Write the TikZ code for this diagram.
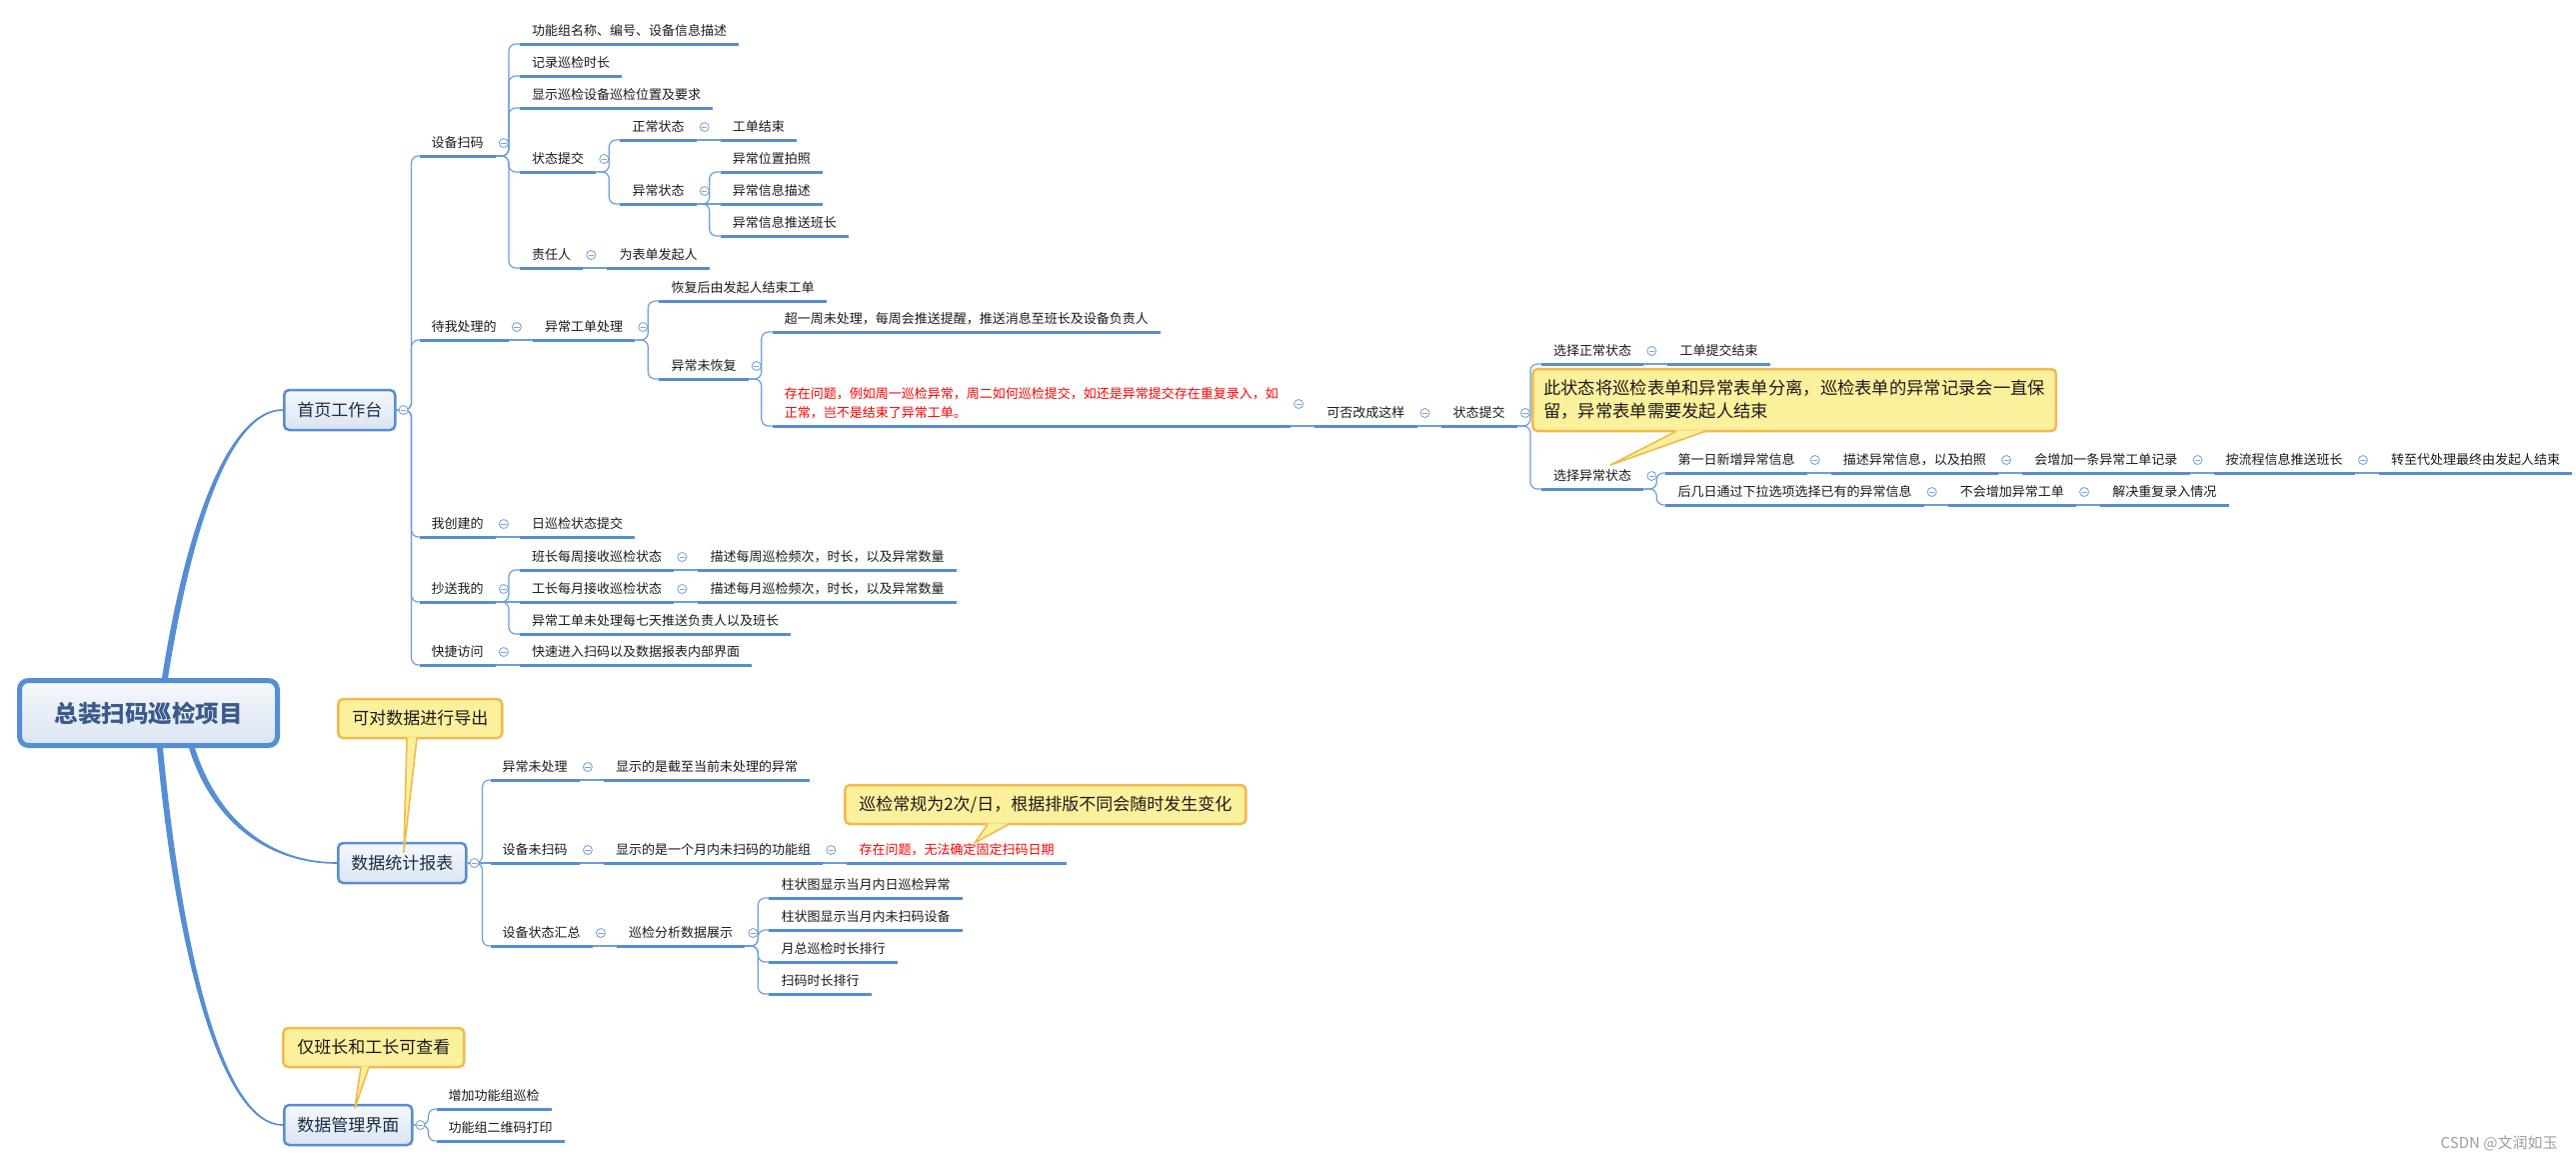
\documentclass[tikz,border=0pt]{standalone}
\usepackage{fontspec}
\setmainfont{Noto Sans CJK SC}
\definecolor{lineblue}{HTML}{558ED5}
\definecolor{linkblue}{HTML}{6E9DDA}
\definecolor{foldblue}{HTML}{7FA5DA}
\definecolor{boxtop}{HTML}{F5F8FC}
\definecolor{boxbot}{HTML}{DAE4F1}
\definecolor{rootink}{HTML}{3A5A8C}
\definecolor{mainink}{HTML}{1C2C45}
\definecolor{notefill}{HTML}{FBF09C}
\definecolor{noteline}{HTML}{F2BA4E}
\definecolor{inkgrey}{HTML}{1A1A1A}

\begin{document}
\begin{tikzpicture}[x=1pt, y=-1pt,
  topic/.style={anchor=south west, inner xsep=12pt, inner ysep=5pt, text height=10pt, text depth=3pt,
    text=inkgrey, font=\fontsize{13}{19}\selectfont},
  warn/.style={topic, text=red},
  uline/.style={lineblue, line width=3pt},
  link/.style={linkblue, line width=1.2pt, rounded corners=7pt},
  main/.style={anchor=west, draw=lineblue, line width=2.5pt, rounded corners=5pt, top color=boxtop,
    bottom color=boxbot, inner xsep=13pt, minimum height=40pt, text=mainink, font=\fontsize{17}{20}\selectfont},
  fold/.style={circle, draw=foldblue, fill=white, line width=0.9pt, minimum size=9pt, inner sep=0pt,
    path picture={\draw[foldblue, line width=0.9pt] ([xshift=-2.6pt]path picture bounding box.center)
      -- ([xshift=2.6pt]path picture bounding box.center);}},
  note/.style={anchor=west, draw=noteline, fill=notefill, line width=2.5pt, rounded corners=5pt,
    inner xsep=14pt, minimum height=39pt, text=inkgrey, font=\fontsize{17}{23}\selectfont}]
\useasboundingbox (0,0) rectangle (2577,1162);
\fill[white] (0,0) rectangle (2577,1162);

% central topic and the three main branches
\node[draw=lineblue, line width=5pt, rounded corners=9pt, top color=boxtop, bottom color=boxbot,
  minimum width=258pt, minimum height=65pt, text=rootink,
  font=\fontsize{23.5}{28}\selectfont\bfseries] (root) at (148.5,713) {总装扫码巡检项目};
\node[main] (home) at (283,410) {首页工作台};
\node[main] (stats) at (337,863) {数据统计报表};
\node[main] (manage) at (283,1125) {数据管理界面};

\fill[lineblue] ([xshift=13.5pt]root.north) .. controls +(25,-159) and +(-53,0) .. ([yshift=0.8pt]home.west)
  -- ([yshift=-0.8pt]home.west) .. controls +(-51,0) and +(25,-157) .. ([xshift=19.5pt]root.north) -- cycle;
\fill[lineblue] ([xshift=46.5pt]root.south) .. controls +(23,72) and +(-67,0) .. ([yshift=0.8pt]stats.west)
  -- ([yshift=-0.8pt]stats.west) .. controls +(-69,0) and +(23,74) .. ([xshift=40.5pt]root.south) -- cycle;
\fill[lineblue] ([xshift=14.5pt]root.south) .. controls +(20,212) and +(-58,0) .. ([yshift=0.8pt]manage.west)
  -- ([yshift=-0.8pt]manage.west) .. controls +(-60,0) and +(20,214) .. ([xshift=8.5pt]root.south) -- cycle;

% 首页工作台
\node[topic] (scan) at ([shift={(23,-254)}]home.east) {设备扫码};
\node[topic] (info) at ([shift={(24,-112)}]scan.south east) {功能组名称、编号、设备信息描述};
\node[topic] (dur) at ([shift={(24,-80)}]scan.south east) {记录巡检时长};
\node[topic] (pos) at ([shift={(24,-48)}]scan.south east) {显示巡检设备巡检位置及要求};
\node[topic] (submit) at ([shift={(24,16)}]scan.south east) {状态提交};
\node[topic] (owner) at ([shift={(24,112)}]scan.south east) {责任人};
\node[topic] (ok) at ([shift={(24,-32)}]submit.south east) {正常状态};
\node[topic] (bad) at ([shift={(24,32)}]submit.south east) {异常状态};
\node[topic] (okend) at ([shift={(24,0)}]ok.south east) {工单结束};
\node[topic] (photo) at ([shift={(24,-32)}]bad.south east) {异常位置拍照};
\node[topic] (desc) at ([shift={(24,0)}]bad.south east) {异常信息描述};
\node[topic] (push) at ([shift={(24,32)}]bad.south east) {异常信息推送班长};
\node[topic] (starter) at ([shift={(24,0)}]owner.south east) {为表单发起人};

\node[topic] (todo) at ([shift={(23,-70)}]home.east) {待我处理的};
\node[topic] (handle) at ([shift={(24,0)}]todo.south east) {异常工单处理};
\node[topic] (resume) at ([shift={(24,-39)}]handle.south east) {恢复后由发起人结束工单};
\node[topic] (unres) at ([shift={(24,39)}]handle.south east) {异常未恢复};
\node[topic] (week) at ([shift={(24,-47)}]unres.south east) {超一周未处理，每周会推送提醒，推送消息至班长及设备负责人};
\node[warn, align=left, text height=29pt] (issue) at ([shift={(24,47)}]unres.south east)
  {存在问题，例如周一巡检异常，周二如何巡检提交，如还是异常提交存在重复录入，如\\正常，岂不是结束了异常工单。};
\node[topic] (maybe) at ([shift={(24,0)}]issue.south east) {可否改成这样};
\node[topic] (state) at ([shift={(24,0)}]maybe.south east) {状态提交};
\node[topic] (selok) at ([shift={(24,-62)}]state.south east) {选择正常状态};
\node[topic] (selbad) at ([shift={(24,63)}]state.south east) {选择异常状态};
\node[topic] (okdone) at ([shift={(24,0)}]selok.south east) {工单提交结束};
\node[topic] (first) at ([shift={(22,-16)}]selbad.south east) {第一日新增异常信息};
\node[topic] (record) at ([shift={(24,0)}]first.south east) {描述异常信息，以及拍照};
\node[topic] (addrec) at ([shift={(24,0)}]record.south east) {会增加一条异常工单记录};
\node[topic] (notify) at ([shift={(24,0)}]addrec.south east) {按流程信息推送班长};
\node[topic] (close) at ([shift={(24,0)}]notify.south east) {转至代处理最终由发起人结束};
\node[topic] (later) at ([shift={(22,16)}]selbad.south east) {后几日通过下拉选项选择已有的异常信息};
\node[topic] (noadd) at ([shift={(24,0)}]later.south east) {不会增加异常工单};
\node[topic] (nodup) at ([shift={(24,0)}]noadd.south east) {解决重复录入情况};

\node[topic] (mine) at ([shift={(23,127)}]home.east) {我创建的};
\node[topic] (daily) at ([shift={(24,0)}]mine.south east) {日巡检状态提交};
\node[topic] (cc) at ([shift={(23,192)}]home.east) {抄送我的};
\node[topic] (weekly) at ([shift={(24,-32)}]cc.south east) {班长每周接收巡检状态};
\node[topic] (monthly) at ([shift={(24,0)}]cc.south east) {工长每月接收巡检状态};
\node[topic] (remind) at ([shift={(24,32)}]cc.south east) {异常工单未处理每七天推送负责人以及班长};
\node[topic] (wdesc) at ([shift={(24,0)}]weekly.south east) {描述每周巡检频次，时长，以及异常数量};
\node[topic] (mdesc) at ([shift={(24,0)}]monthly.south east) {描述每月巡检频次，时长，以及异常数量};
\node[topic] (quick) at ([shift={(23,255)}]home.east) {快捷访问};
\node[topic] (entry) at ([shift={(24,0)}]quick.south east) {快速进入扫码以及数据报表内部界面};

% 数据统计报表
\node[topic] (open) at ([shift={(23,-83)}]stats.east) {异常未处理};
\node[topic] (openlist) at ([shift={(24,0)}]open.south east) {显示的是截至当前未处理的异常};
\node[topic] (unscan) at ([shift={(23,0)}]stats.east) {设备未扫码};
\node[topic] (grplist) at ([shift={(24,0)}]unscan.south east) {显示的是一个月内未扫码的功能组};
\node[warn] (dateissue) at ([shift={(24,0)}]grplist.south east) {存在问题，无法确定固定扫码日期};
\node[topic] (summary) at ([shift={(23,83)}]stats.east) {设备状态汇总};
\node[topic] (analysis) at ([shift={(24,0)}]summary.south east) {巡检分析数据展示};
\node[topic] (bar1) at ([shift={(24,-48)}]analysis.south east) {柱状图显示当月内日巡检异常};
\node[topic] (bar2) at ([shift={(24,-16)}]analysis.south east) {柱状图显示当月内未扫码设备};
\node[topic] (rank1) at ([shift={(24,16)}]analysis.south east) {月总巡检时长排行};
\node[topic] (rank2) at ([shift={(24,48)}]analysis.south east) {扫码时长排行};

% 数据管理界面
\node[topic] (addgrp) at ([shift={(23,-16)}]manage.east) {增加功能组巡检};
\node[topic] (qrcode) at ([shift={(23,16)}]manage.east) {功能组二维码打印};

% connectors
\foreach \src/\dst in {home/scan, home/todo, home/mine, home/cc, home/quick,
    stats/open, stats/summary, manage/addgrp, manage/qrcode}
  \draw[link] (\src.east) -- ++(15,0) |- (\dst.south west);
\draw[link] (stats.east) -- (unscan.south west);
\foreach \src/\dst in {scan/info, scan/dur, scan/pos, scan/submit, scan/owner, submit/ok, submit/bad,
    bad/photo, bad/push, handle/resume, handle/unres, unres/week, unres/issue, state/selok, state/selbad,
    selbad/first, selbad/later, cc/weekly, cc/remind, analysis/bar1, analysis/bar2, analysis/rank1, analysis/rank2}
  \draw[link] (\src.south east) -- ++(13,0) |- (\dst.south west);
\foreach \src/\dst in {ok/okend, bad/desc, owner/starter, todo/handle, issue/maybe, maybe/state, selok/okdone,
    first/record, record/addrec, addrec/notify, notify/close, later/noadd, noadd/nodup, mine/daily,
    cc/monthly, weekly/wdesc, monthly/mdesc, quick/entry, open/openlist, unscan/grplist,
    grplist/dateissue, summary/analysis}
  \draw[link] (\src.south east) -- (\dst.south west);

% underlines
\foreach \nd in {scan, info, dur, pos, submit, owner, ok, bad, okend, photo, desc, push, starter,
    todo, handle, resume, unres, week, issue, maybe, state, selok, selbad, okdone, first, record, addrec,
    notify, close, later, noadd, nodup, mine, daily, cc, weekly, monthly, remind, wdesc, mdesc, quick, entry,
    open, openlist, unscan, grplist, dateissue, summary, analysis, bar1, bar2, rank1, rank2, addgrp, qrcode}
  \draw[uline] (\nd.south west) -- (\nd.south east);

% fold markers
\foreach \nd in {scan, submit, ok, bad, owner, todo, handle, unres, maybe, state, selok, selbad, first,
    record, addrec, notify, later, noadd, mine, cc, weekly, monthly, quick, open, unscan, grplist,
    summary, analysis}
  \node[fold] (f\nd) at ([shift={(8,-13)}]\nd.south east) {};
\node[fold] (fissue) at ([shift={(8,-22)}]issue.south east) {};
\foreach \nd in {home, stats, manage}
  \node[fold] (f\nd) at ([xshift=7pt]\nd.east) {};

% callouts
\node[note] (exportnote) at (337,718.5) {可对数据进行导出};
\coordinate (exporttip) at (404,852);
\node[note] (rulenote) at (844,804.5) {巡检常规为2次/日，根据排版不同会随时发生变化};
\coordinate (ruletip) at (975,843);
\node[note, align=left, inner xsep=11pt, minimum height=62pt, font=\fontsize{17.3}{23}\selectfont] (splitnote)
  at (1532,400) {此状态将巡检表单和异常表单分离，巡检表单的异常记录会一直保\\留，异常表单需要发起人结束};
\coordinate (splittip) at (1611,465);
\node[note] (viewnote) at (282,1047.5) {仅班长和工长可查看};
\coordinate (viewtip) at (355,1108);
\foreach \nd/\tp/\ax/\bx in {exportnote/exporttip/70/80, rulenote/ruletip/144/165,
    splitnote/splittip/145/174, viewnote/viewtip/79/87} {
  \fill[notefill] ([shift={(\ax,-2)}]\nd.south west) -- (\tp) -- ([shift={(\bx,-2)}]\nd.south west) -- cycle;
  \draw[noteline, line width=1.6pt, line join=round] ([shift={(\ax,-1)}]\nd.south west) -- (\tp)
    -- ([shift={(\bx,-1)}]\nd.south west);
}

\node[anchor=east, text=black!38, font=\fontsize{15}{18}\selectfont] (mark) at (2562,1143) {CSDN @文润如玉};
\end{tikzpicture}
\end{document}
